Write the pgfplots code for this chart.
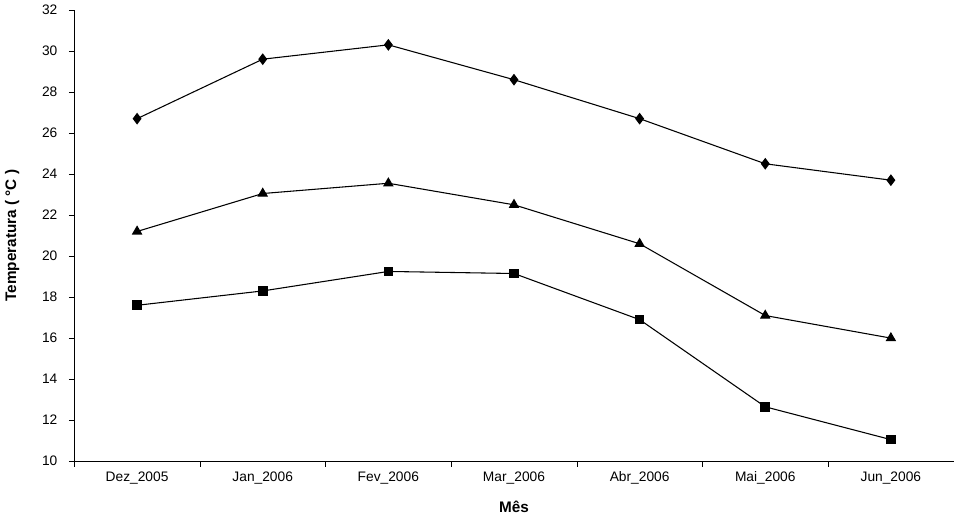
\documentclass[border=0pt]{standalone}
\usepackage{pgfplots}
\pgfplotsset{compat=1.18}
\usepackage{fontspec}
\setmainfont{Liberation Sans}
\begin{document}
\begin{tikzpicture}
\begin{axis}[
  scale only axis, width=575pt, height=295pt,
  xmin=-0.5, xmax=6.5, ymin=10, ymax=32,
  ytick={10,12,...,32},
  xtick={0,...,6},
  xticklabels={Dez\_2005,Jan\_2006,Fev\_2006,Mar\_2006,Abr\_2006,Mai\_2006,Jun\_2006},
  major x tick style={draw=none},
  minor xtick={-0.5,0.5,...,6.5},
  minor tick length=3.5pt, major tick length=3.5pt,
  tick align=outside,
  axis x line*=bottom, axis y line*=left,
  axis line style={-},
  tick style={black},
  ticklabel style={font=\small},
  yticklabel style={xshift=-4pt},
  /pgf/number format/assume math mode=true,
  xlabel={\textbf{Mês}}, ylabel={\textbf{Temperatura ( °C )}},
  xlabel style={yshift=-4pt}, ylabel style={yshift=8pt},
  every axis plot/.append style={black, line width=0.7pt},
]
\addplot[mark=diamond*, mark size=3.3pt] coordinates {(0,26.7)(1,29.6)(2,30.3)(3,28.6)(4,26.7)(5,24.5)(6,23.7)};
\addplot[mark=triangle*, mark size=3.3pt] coordinates {(0,21.2)(1,23.05)(2,23.55)(3,22.5)(4,20.6)(5,17.1)(6,16.0)};
\addplot[mark=square*, mark size=2.8pt] coordinates {(0,17.6)(1,18.3)(2,19.25)(3,19.15)(4,16.9)(5,12.65)(6,11.05)};
\end{axis}
\end{tikzpicture}
\end{document}
